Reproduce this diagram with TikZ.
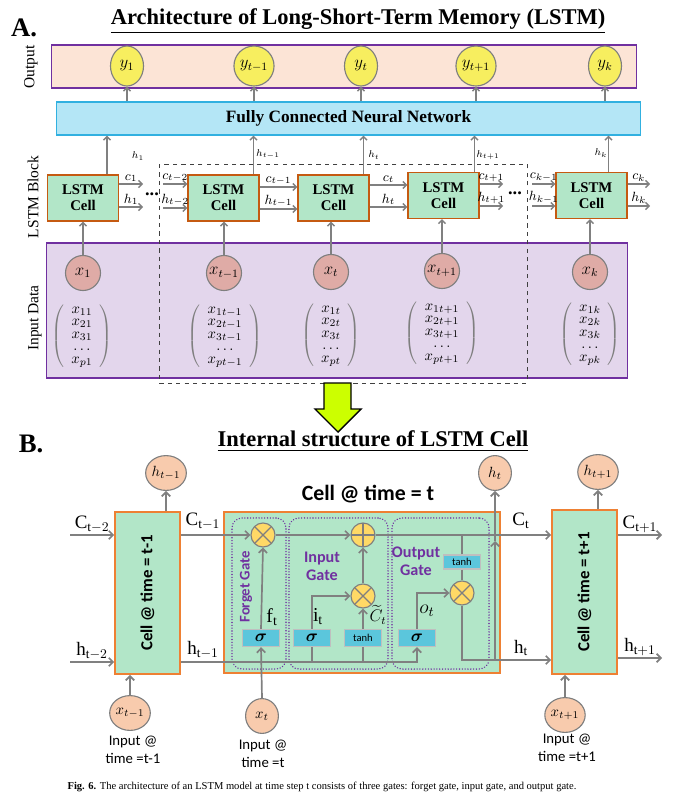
\RequirePackage{fix-cm}
\documentclass[tikz,border=0pt]{standalone}
\usepackage{amsmath}
\usepackage{amssymb}
\usepackage{xcolor}
\usepackage{graphicx}
\usepackage{fontspec}
\setmainfont{Liberation Serif}
\newfontfamily\calibri{Carlito}
\usetikzlibrary{positioning, shapes, shapes.geometric, calc, arrows.meta}

\definecolor{outfill}{HTML}{FCE4D6}
\definecolor{purp}{HTML}{7030A0}
\definecolor{ylw}{HTML}{F7EE5F}
\definecolor{fcfill}{HTML}{B4E6F6}
\definecolor{fcline}{HTML}{31B0E0}
\definecolor{cellfill}{HTML}{B2E6C8}
\definecolor{cellline}{HTML}{C55A11}
\definecolor{infill}{HTML}{E3D6EC}
\definecolor{rose}{HTML}{DFABA6}
\definecolor{circgray}{HTML}{7F7F7F}
\definecolor{arrgray}{HTML}{808080}
\definecolor{bcellline}{HTML}{EE8033}
\definecolor{peach}{HTML}{F8CBAD}
\definecolor{sigfill}{HTML}{5BC6DC}
\definecolor{boxgray}{HTML}{BFBFBF}
\definecolor{opfill}{HTML}{FFD966}
\definecolor{bigarrow}{HTML}{CCFF00}

% column vector of one time step
\newcommand{\xvec}[5]{$\color{circgray}\left(\color{black}\begin{array}{c} #1\\ #2\\ #3\\ #4\\ #5\end{array}\color{circgray}\right)$}

\begin{document}
\begin{tikzpicture}[
    x=0.025cm, y=-0.025cm,
    arrow/.style={-{Straight Barb[length=2.5pt, width=5pt]}, draw=arrgray, line width=1pt},
    wire/.style={draw=arrgray, line width=1.2pt},
    barrow/.style={wire, -{Straight Barb[length=3pt, width=6pt]}},
    band/.style={rectangle, draw=purp, thick},
    ycirc/.style={ellipse, draw=circgray, fill=ylw, thick, minimum width=0.825cm, minimum height=1cm, inner sep=0pt, font=\fontsize{12}{12}\selectfont},
    xcirc/.style={circle, draw=circgray, fill=rose, thick, minimum size=0.875cm, inner sep=0pt, font=\fontsize{12}{12}\selectfont},
    lstm/.style={rectangle, draw=cellline, fill=cellfill, thick, minimum width=1.775cm, minimum height=1.15cm, align=center, font=\bfseries\fontsize{10.5}{11.5}\selectfont},
    vec/.style={font=\fontsize{10.5}{9}\selectfont, inner sep=0pt},
    clab/.style={font=\fontsize{9.5}{10}\selectfont, inner sep=1pt},
    hlab/.style={font=\fontsize{7}{7}\selectfont, inner sep=1pt},
    sidelab/.style={rotate=90, font=\fontsize{11}{11}\selectfont},
    bcell/.style={rectangle, draw=bcellline, fill=cellfill, line width=1.2pt, minimum width=1.625cm, minimum height=4.05cm},
    gatebox/.style={rectangle, draw=purp, line width=1.1pt, dash pattern=on 0.01pt off 2pt, line cap=round, rounded corners=0.25cm, minimum height=3.775cm},
    op/.style={circle, draw=circgray, fill=opfill, line width=0.8pt, minimum size=0.6cm, inner sep=0pt},
    mult/.style={op, path picture={\draw[circgray, line width=0.8pt] (path picture bounding box.north west) -- (path picture bounding box.south east) (path picture bounding box.north east) -- (path picture bounding box.south west);}},
    plusop/.style={op, path picture={\draw[circgray, line width=0.8pt] (path picture bounding box.north) -- (path picture bounding box.south) (path picture bounding box.west) -- (path picture bounding box.east);}},
    act/.style={rectangle, draw=boxgray, fill=sigfill, line width=1pt, minimum width=0.925cm, minimum height=0.425cm, inner sep=0pt},
    pcirc/.style={ellipse, draw=circgray, fill=peach, thick, minimum width=0.82cm, minimum height=0.87cm, inner sep=0pt, font=\fontsize{10.5}{10.5}\selectfont},
    glab/.style={font=\calibri\bfseries\fontsize{11.5}{13}\selectfont, text=purp, align=center},
    inlab/.style={font=\calibri\fontsize{10.5}{12.5}\selectfont, align=center},
    blab/.style={font=\fontsize{13.5}{13.5}\selectfont, inner sep=1pt},
    glyph/.style={font=\fontsize{14}{14}\selectfont, inner sep=1pt}
]
\useasboundingbox (0,0) rectangle (681,795);
\fill[white] (0,0) rectangle (681,795);

% ---------------- Part A ----------------
\node[font=\bfseries\fontsize{19}{19}\selectfont] (parta) at (24,28) {A.};
\node[font=\bfseries\fontsize{16}{16}\selectfont] (titlea) at (358,21) {\underline{Architecture of Long-Short-Term Memory (LSTM)}};

% Output row
\node[band, fill=outfill, minimum width=14.6cm, minimum height=1.075cm] (outband) at (344,66.5) {};
\node[sidelab] (outlab) at (31,67) {Output};
\node[ycirc] (y1) at (127,66) {$y_1$};
\node[ycirc] (y2) at (254,66) {$y_{t-1}$};
\node[ycirc] (y3) at (361,66) {$y_t$};
\node[ycirc] (y4) at (476,66) {$y_{t+1}$};
\node[ycirc] (y5) at (605,66) {$y_k$};

\node[rectangle, draw=fcline, fill=fcfill, thick, minimum width=14.6cm, minimum height=0.825cm, font=\bfseries\fontsize{12.3}{12.3}\selectfont] (fcnn) at (348.5,118.5) {Fully Connected Neural Network};
\foreach \i in {1,...,5}
    \draw[arrow] (y\i |- fcnn.north) -- (y\i.south);

% LSTM block
\node[sidelab] (blocklab) at (33,197) {LSTM Block};
\node[lstm] (c1) at (83,198) {LSTM\\Cell};
\node[lstm] (c2) at (223.5,198) {LSTM\\Cell};
\node[lstm] (c3) at (333.5,198) {LSTM\\Cell};
\node[lstm] (c4) at (443.5,195.5) {LSTM\\Cell};
\node[lstm] (c5) at (591.5,195.5) {LSTM\\Cell};

% hidden states up to the dense layer
\coordinate (u1) at ($(c1.north)+(24,0)$);
\coordinate (u2) at ($(c2.north)+(30,0)$);
\coordinate (u3) at ($(c3.north)+(30,0)$);
\coordinate (u4) at ($(c4.north)+(31,0)$);
\coordinate (u5) at ($(c5.north)+(17,0)$);
\foreach \i in {1,...,5}
    \draw[arrow] (u\i) -- (u\i |- fcnn.south);
\node[hlab] (hu1) at (138,156) {$h_1$};
\node[hlab] (hu2) at (268,154) {$h_{t-1}$};
\node[hlab] (hu3) at (374,155) {$h_t$};
\node[hlab] (hu4) at (488,155) {$h_{t+1}$};
\node[hlab] (hu5) at (601,153) {$h_k$};

% cell and hidden state arrows
\coordinate (e1c) at (143,184);
\coordinate (e1h) at (143,207);
\draw[arrow] (c1.east |- e1c) -- (e1c) node[clab, midway, above] (lc1) {$c_1$};
\draw[arrow] (c1.east |- e1h) -- (e1h) node[clab, midway, above] (lh1) {$h_1$};
\node[font=\bfseries\fontsize{13}{13}\selectfont] (dots1) at (152,194) {...};

\coordinate (s2c) at (163,184);
\coordinate (s2h) at (163,208);
\draw[arrow] (s2c) -- (s2c -| c2.west) node[clab, midway, above] (lc2) {$c_{t-2}$};
\draw[arrow] (s2h) -- (s2h -| c2.west) node[clab, midway, above] (lh2) {$h_{t-2}$};

\draw[arrow] (c2.east |- 0,187) -- (c3.west |- 0,187) node[clab, midway, above] (lc3) {$c_{t-1}$};
\draw[arrow] (c2.east |- 0,209) -- (c3.west |- 0,209) node[clab, midway, above] (lh3) {$h_{t-1}$};
\draw[arrow] (c3.east |- 0,185) -- (c4.west |- 0,185) node[clab, midway, above] (lc4) {$c_t$};
\draw[arrow] (c3.east |- 0,207) -- (c4.west |- 0,207) node[clab, midway, above] (lh4) {$h_t$};

\coordinate (e4c) at (503,184);
\coordinate (e4h) at (503,206);
\draw[arrow] (c4.east |- e4c) -- (e4c) node[clab, midway, above] (lc5) {$c_{t+1}$};
\draw[arrow] (c4.east |- e4h) -- (e4h) node[clab, midway, above] (lh5) {$h_{t+1}$};
\node[font=\bfseries\fontsize{13}{13}\selectfont] (dots2) at (515,193) {...};

\coordinate (s5c) at (532,184);
\coordinate (s5h) at (532,206);
\draw[arrow] (s5c) -- (s5c -| c5.west) node[clab, midway, above] (lc6) {$c_{k-1}$};
\draw[arrow] (s5h) -- (s5h -| c5.west) node[clab, midway, above] (lh6) {$h_{k-1}$};
\coordinate (e5c) at (650,184);
\coordinate (e5h) at (650,206);
\draw[arrow] (c5.east |- e5c) -- (e5c) node[clab, midway, above] (lc7) {$c_k$};
\draw[arrow] (c5.east |- e5h) -- (e5h) node[clab, midway, above] (lh7) {$h_k$};

% Input data
\node[band, fill=infill, minimum width=14.5cm, minimum height=3.375cm] (inband) at (337,310.5) {};
\node[sidelab] (inlab) at (35,318) {Input Data};
\node[xcirc] (x1) at (83,273) {$x_1$};
\node[xcirc] (x2) at (224,273) {$x_{t-1}$};
\node[xcirc] (x3) at (331,272) {$x_t$};
\node[xcirc] (x4) at (442,271) {$x_{t+1}$};
\node[xcirc] (x5) at (590,272) {$x_k$};
\foreach \i in {1,...,5}
    \draw[arrow] (x\i.north) -- (x\i |- c\i.south);

\node[vec] (v1) at (82,336) {\xvec{x_{11}}{x_{21}}{x_{31}}{\ldots}{x_{p1}}};
\node[vec] (v2) at (225,336) {\xvec{x_{1t-1}}{x_{2t-1}}{x_{3t-1}}{\ldots}{x_{pt-1}}};
\node[vec] (v3) at (331,335) {\xvec{x_{1t}}{x_{2t}}{x_{3t}}{\ldots}{x_{pt}}};
\node[vec] (v4) at (442,333) {\xvec{x_{1t+1}}{x_{2t+1}}{x_{3t+1}}{\ldots}{x_{pt+1}}};
\node[vec] (v5) at (590,334) {\xvec{x_{1k}}{x_{2k}}{x_{3k}}{\ldots}{x_{pk}}};

% time window
\draw[dashed, line width=0.7pt, black!75] (159,164) rectangle (527,383);

% down arrow to part B
\draw[fill=bigarrow, line width=1pt] (324,383) -- (351,383) -- (351,409) -- (361,409) -- (338,432) -- (315,409) -- (324,409) -- cycle;

% ---------------- Part B ----------------
\node[font=\bfseries\fontsize{19}{19}\selectfont] (partb) at (31,444) {B.};
\node[font=\bfseries\fontsize{16}{16}\selectfont] (titleb) at (373,441) {\underline{Internal structure of LSTM Cell}};
\node[font=\calibri\bfseries\fontsize{15.5}{15.5}\selectfont] (celltitle) at (368,494) {Cell @ time = t};

% neighbouring cells
\node[bcell] (lcell) at (147.5,593) {};
\node[rotate=90, font=\calibri\bfseries\fontsize{12}{12}\selectfont] (lcelltxt) at (lcell) {Cell @ time = t-1};
\node[bcell, minimum height=4.1cm] (rcell) at (584.5,592) {};
\node[rotate=90, font=\calibri\bfseries\fontsize{12}{12}\selectfont] (rcelltxt) at (rcell) {Cell @ time = t+1};

% middle cell and gates
\node[bcell, minimum width=6.9cm, minimum height=4.025cm] (bigcell) at (362,592.5) {};
\node[gatebox, minimum width=1.35cm] (fgate) at (259,593.5) {};
\node[gatebox, minimum width=2.475cm] (igate) at (338.5,593.5) {};
\node[gatebox, minimum width=2.425cm] (ogate) at (440.5,593.5) {};
\node[glab, rotate=90, font=\calibri\bfseries\fontsize{10.5}{12}\selectfont] (fgatelab) at (246,587) {Forget Gate};
\node[glab] (igatelab) at (322,566) {Input\\Gate};
\node[glab] (ogatelab) at (416,561) {Output\\Gate};

\node[mult] (fx) at (263,535) {};
\node[plusop] (plus) at (363,535) {};
\node[mult] (ix) at (363,596) {};
\node[mult] (ox) at (462,593) {};
\node[act, font=\fontsize{12}{12}\selectfont] (fsig) at (261,638) {$\boldsymbol{\sigma}$};
\node[act, font=\fontsize{12}{12}\selectfont] (isig) at (312,638) {$\boldsymbol{\sigma}$};
\node[act, font=\calibri\fontsize{7.5}{7.5}\selectfont] (itanh) at (363,638) {tanh};
\node[act, font=\fontsize{12}{12}\selectfont] (osig) at (417,638) {$\boldsymbol{\sigma}$};
\node[act, minimum height=0.35cm, font=\calibri\fontsize{7.5}{7.5}\selectfont] (otanh) at (462,562) {tanh};

% state circles
\node[pcirc] (hprev) at (166,473) {$h_{t-1}$};
\node[pcirc] (hcur) at (495,473) {$h_t$};
\node[pcirc] (hnext) at (598,472) {$h_{t+1}$};
\node[pcirc] (xprev) at (130,713) {$x_{t-1}$};
\node[pcirc] (xcur) at (262,716) {$x_t$};
\node[pcirc] (xnext) at (565,715) {$x_{t+1}$};
\node[inlab] (xprevlab) at (133,750) {Input @\\time =t-1};
\node[inlab] (xcurlab) at (263,754) {Input @\\time =t};
\node[inlab] (xnextlab) at (567,748) {Input @\\time =t+1};

% left cell connections
\coordinate (cin) at (70,535);
\coordinate (hin) at (70,662);
\draw[barrow] (cin) -- (cin -| lcell.west) node[blab, midway, above] (lcin) {$\mathrm{C}_{\mathrm{t}-2}$};
\draw[barrow] (hin) -- (hin -| lcell.west) node[blab, midway, above] (lhin) {$\mathrm{h}_{\mathrm{t}-2}$};
\draw[barrow] (lcell.north -| hprev) -- (hprev.south);
\draw[barrow] (xprev.north) -- (xprev |- lcell.south);

% cell state path
\draw[barrow] (lcell.east |- fx) -- (fx.west);
\node[blab] (lcprev) at (203,521) {$\mathrm{C}_{\mathrm{t}-1}$};
\draw[barrow] (fx.east) -- (plus.west);
\draw[barrow] (plus.east) -- (plus -| rcell.west);
\node[blab] (lccur) at (521,521) {$\mathrm{C}_{\mathrm{t}}$};

% hidden state path
\coordinate (hl) at (lcell.east |- hin);
\draw[barrow] (hl) -| (osig.south);
\node[blab] (lhprev) at (203,650) {$\mathrm{h}_{\mathrm{t}-1}$};
\draw[wire] (isig.south) -- (isig.south |- hl);
\draw[wire] (itanh.south) -- (itanh.south |- hl);
\draw[barrow] (xcur.north) -- (fsig.south);

% forget gate
\draw[barrow] (fsig.north) -- (fx.south);
\node[glyph] (ft) at (272,617) {$\mathrm{f}_{\mathrm{t}}$};

% input gate
\draw[barrow] (isig.north) |- (ix.west);
\node[glyph] (it) at (318,617) {$\mathrm{i}_{\mathrm{t}}$};
\draw[barrow] (itanh.north) -- (ix.south);
\node[font=\fontsize{12}{12}\selectfont, inner sep=1pt] (ct) at (378,615) {$\widetilde{C}_{t}$};
\draw[barrow] (ix.north) -- (plus.south);

% output gate
\draw[barrow] (osig.north) |- (ox.west);
\node[glyph] (ot) at (427,611) {$o_t$};
\draw[wire] (otanh.north) -- (otanh.north |- plus);
\draw[wire] (otanh.south) -- (ox.north);
\coordinate (hj) at (495,660);
\coordinate (hmid) at (495,541);
\draw[wire] (ox.south) |- (hj);
\draw[barrow] (hj) -- (hmid);
\draw[barrow] (hmid) -- (hcur.south);
\draw[barrow] (hj) -- (hj -| rcell.west);
\node[blab] (lhcur) at (521,648) {$\mathrm{h}_{\mathrm{t}}$};

% right cell connections
\coordinate (cout) at (662,535);
\coordinate (hout) at (662,658);
\draw[barrow] (rcell.east |- cout) -- (cout) node[blab, midway, above] (lcout) {$\mathrm{C}_{\mathrm{t}+1}$};
\draw[barrow] (rcell.east |- hout) -- (hout) node[blab, midway, above] (lhout) {$\mathrm{h}_{\mathrm{t}+1}$};
\draw[barrow] (rcell.north -| hnext) -- (hnext.south);
\draw[barrow] (xnext.north) -- (xnext |- rcell.south);

% caption
\node[font=\fontsize{7.5}{8}\selectfont] (caption) at (322,787) {\textbf{Fig. 6.} The architecture of an LSTM model at time step t consists of three gates: forget gate, input gate, and output gate.};
\end{tikzpicture}
\end{document}
